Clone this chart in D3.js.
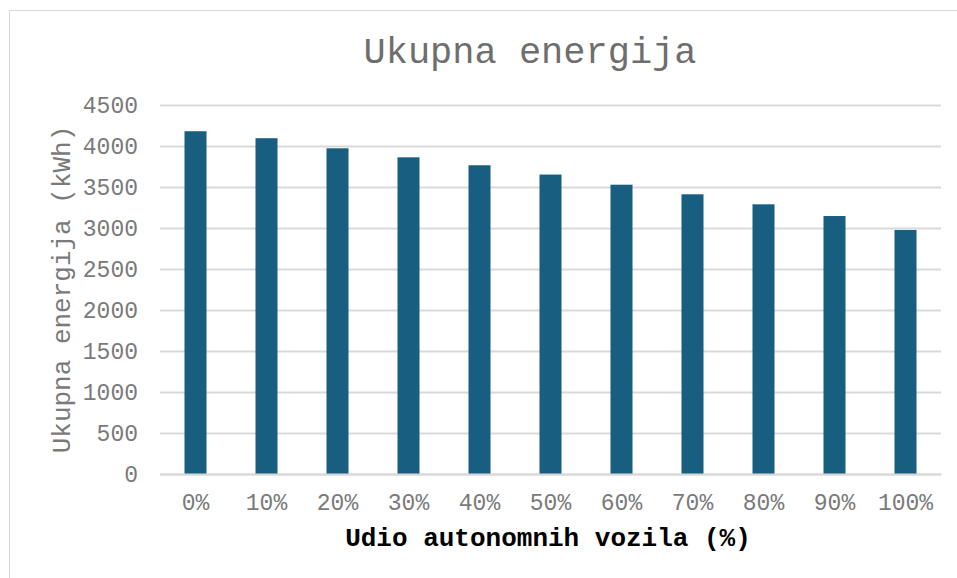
<!DOCTYPE html>
<html>
<head>
<meta charset="utf-8">
<script src="https://cdn.jsdelivr.net/npm/d3@7"></script>
<style>
  html, body { margin: 0; padding: 0; background: #fff; }
  svg { display: block; }
</style>
</head>
<body>
<svg id="chart" width="957" height="578"></svg>
<script>
const categories = ["0%", "10%", "20%", "30%", "40%", "50%", "60%", "70%", "80%", "90%", "100%"];
const energy = [4180, 4095, 3972, 3862, 3765, 3652, 3528, 3411, 3289, 3146, 2976];
const yTicks = [0, 500, 1000, 1500, 2000, 2500, 3000, 3500, 4000, 4500];
const titleText = "Ukupna energija";
const yTitle = "Ukupna energija (kWh)";
const xTitle = "Udio autonomnih vozila (%)";

const svg = d3.select("#chart");
const W = 957, H = 578;
const margin = { left: 160, right: 16, top: 105, bottom: 104 };
const FONT = "'Liberation Mono', 'Courier New', monospace";

svg.append("rect").attr("x", 9.5).attr("y", 10.5).attr("width", W + 10).attr("height", H + 10)
  .attr("fill", "#fff").attr("stroke", "#d9d9d9").attr("stroke-width", 1);

const x = d3.scaleBand().domain(categories).range([margin.left, W - margin.right]).paddingInner(0.69).paddingOuter(0.345);
const y = d3.scaleLinear().domain([0, 4500]).range([H - margin.bottom, margin.top]);

// gridlines
const yAxis = d3.axisLeft(y).tickValues(yTicks).tickSize(-(W - margin.right - margin.left)).tickPadding(22).tickFormat(d3.format("d"));
const gy = svg.append("g").attr("transform", `translate(${margin.left},0)`).call(yAxis);
gy.select(".domain").remove();
gy.selectAll(".tick line").attr("stroke", "#d9d9d9").attr("stroke-width", 2);
gy.selectAll(".tick text").attr("fill", "#7a7a7a").style("font-family", FONT).style("font-size", "23px");

// bars
svg.append("g").selectAll("rect").data(categories).join("rect")
  .attr("x", d => x(d))
  .attr("width", x.bandwidth())
  .attr("y", (d, i) => y(energy[i]))
  .attr("height", (d, i) => y(0) - y(energy[i]))
  .attr("fill", "#175e81");

// x axis
const xAxis = d3.axisBottom(x).tickSize(0).tickPadding(20);
const gx = svg.append("g").attr("transform", `translate(0,${y(0)})`).call(xAxis);
gx.select(".domain").attr("stroke", "#d9d9d9").attr("stroke-width", 2);
gx.selectAll(".tick text").attr("fill", "#7a7a7a").style("font-family", FONT).style("font-size", "23px");

// title
svg.append("text").attr("x", 530).attr("y", 63).attr("text-anchor", "middle")
  .attr("fill", "#6e6e6e").style("font-family", FONT).style("font-size", "37px").text(titleText);

// axis titles
svg.append("text").attr("x", 548).attr("y", 546).attr("text-anchor", "middle")
  .attr("fill", "#000").style("font-family", FONT).style("font-size", "26px").style("font-weight", "bold").text(xTitle);

svg.append("text").attr("transform", `translate(70,${(y(0) + y(4500)) / 2}) rotate(-90)`).attr("text-anchor", "middle")
  .attr("fill", "#7a7a7a").style("font-family", FONT).style("font-size", "26px").text(yTitle);
</script>
</body>
</html>
